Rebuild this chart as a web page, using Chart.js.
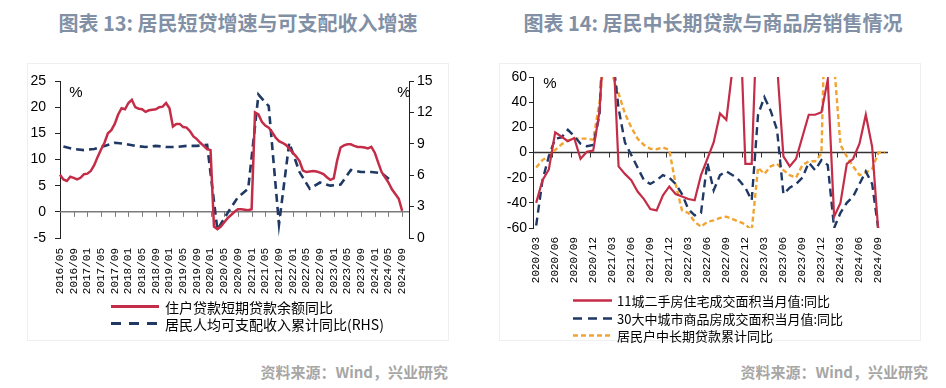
<!DOCTYPE html>
<html><head><meta charset="utf-8">
<script src="https://cdn.jsdelivr.net/npm/chart.js@4.4.0/dist/chart.umd.min.js"></script>
<style>
html,body{margin:0;padding:0;background:#fff;}
body{width:946px;height:388px;position:relative;overflow:hidden;font-family:"Noto Sans CJK SC","Noto Sans",sans-serif;}
.title{position:absolute;top:9px;line-height:28px;font-size:20px;font-weight:700;color:#8190a5;white-space:nowrap;text-align:center;}
.box{position:absolute;border:1px solid #efefef;box-sizing:border-box;}
canvas{position:absolute;top:0;}
.src{position:absolute;top:362px;line-height:20px;font-size:15px;font-weight:700;color:#a6a6a6;white-space:nowrap;text-align:right;}
.leg{position:absolute;color:#000;white-space:nowrap;}
.leg .row{display:flex;align-items:center;}
.leg svg{display:block;}
</style></head><body>
<div class="box" style="left:27px;top:63px;width:422px;height:278px;"></div>
<div class="box" style="left:499px;top:63px;width:422px;height:278px;"></div>
<div class="title" style="left:0;width:476px;">图表 13: 居民短贷增速与可支配收入增速</div>
<div class="title" style="left:473px;width:480px;">图表 14: 居民中长期贷款与商品房销售情况</div>
<canvas id="c1" width="473" height="300" style="left:0;width:473px;height:300px;"></canvas>
<canvas id="c2" width="473" height="290" style="left:473px;width:473px;height:290px;"></canvas>
<div class="leg" style="left:111px;top:298px;font-size:14px;">
  <div class="row" style="height:17px;"><svg width="48" height="17"><line x1="0" y1="8.5" x2="48" y2="8.5" stroke="#c42d48" stroke-width="3"/></svg><span style="margin-left:6px;">住户贷款短期贷款余额同比</span></div>
  <div class="row" style="height:17px;"><svg width="48" height="17"><line x1="0" y1="8.5" x2="48" y2="8.5" stroke="#1f3864" stroke-width="3" stroke-dasharray="10 8"/></svg><span style="margin-left:6px;">居民人均可支配收入累计同比(RHS)</span></div>
</div>
<div class="leg" style="left:573px;top:292px;font-size:13px;">
  <div class="row" style="height:17.5px;"><svg width="39" height="17"><line x1="0" y1="8.5" x2="39" y2="8.5" stroke="#c42d48" stroke-width="2.5"/></svg><span style="margin-left:5px;">11城二手房住宅成交面积当月值:同比</span></div>
  <div class="row" style="height:17.5px;"><svg width="39" height="17"><line x1="0" y1="8.5" x2="39" y2="8.5" stroke="#1f3864" stroke-width="2.5" stroke-dasharray="9 6"/></svg><span style="margin-left:5px;">30大中城市商品房成交面积当月值:同比</span></div>
  <div class="row" style="height:17.5px;"><svg width="39" height="17"><line x1="0" y1="8.5" x2="39" y2="8.5" stroke="#f2a431" stroke-width="2.5" stroke-dasharray="5 3"/></svg><span style="margin-left:5px;">居民户中长期贷款累计同比</span></div>
</div>
<div class="src" style="left:0;width:448px;">资料来源：Wind，兴业研究</div>
<div class="src" style="left:473px;width:455px;">资料来源：Wind，兴业研究</div>
<script>
// ---------- categories ----------
function monthRange(y0, m0, y1, m1) {
  const out = [];
  let y = y0, m = m0;
  while (y < y1 || (y === y1 && m <= m1)) {
    out.push(y + '/' + String(m).padStart(2, '0'));
    m++; if (m > 12) { m = 1; y++; }
  }
  return out;
}
const leftMonths = monthRange(2016, 5, 2024, 11);   // axis runs a little past last data
const rightMonths = monthRange(2020, 3, 2024, 10);

// ---------- chart 13 data ----------
// 住户贷款短期贷款余额同比 (%), monthly 2016/05 - 2024/09
const shortLoanYoY = [
  7.1, 6.2, 5.9, 6.7, 6.5, 6.2, 6.5, 7.2, 7.3, 7.8,
  8.9, 10.5, 11.9, 13.2, 15.0, 15.6, 16.8, 18.6, 19.8, 19.6,
  20.8, 21.4, 20.0, 19.7, 19.6, 19.1, 19.4, 19.5, 19.6, 20.0,
  20.1, 20.8, 19.8, 16.3, 16.8, 16.8, 16.2, 16.1, 15.4, 14.4,
  13.9, 13.2, 12.6, 12.0, 11.8, -2.8, -3.3, -2.8, -2.0, -1.2,
  -0.6, 0.0, 0.5, 0.5, 0.4, 0.3, 0.5, 19.0, 18.6, 17.2,
  16.5, 16.1, 15.2, 14.2, 13.5, 13.2, 12.8, 12.1, 11.3, 10.6,
  9.7, 7.9, 7.6, 7.7, 7.8, 7.7, 7.5, 7.2, 6.6, 6.1,
  6.4, 9.8, 12.3, 12.7, 12.9, 12.9, 12.6, 12.4, 12.4, 12.3,
  12.1, 12.4, 11.3, 9.4, 7.6, 6.6, 5.6, 4.3, 3.4, 2.5,
  0.2
];
// 居民人均可支配收入累计同比 (%, RHS), quarterly
const incomeMonths = [
  '2016/06','2016/09','2016/12','2017/03','2017/06','2017/09','2017/12',
  '2018/03','2018/06','2018/09','2018/12','2019/03','2019/06','2019/09','2019/12',
  '2020/03','2020/06','2020/09','2020/12','2021/03','2021/06','2021/09','2021/12',
  '2022/03','2022/06','2022/09','2022/12','2023/03','2023/06','2023/09','2023/12',
  '2024/03','2024/06'
];
const incomeYoY = [
  8.75, 8.5, 8.4, 8.5, 8.8, 9.1, 9.0,
  8.8, 8.7, 8.8, 8.7, 8.7, 8.8, 8.8, 8.9,
  0.8, 2.4, 3.9, 4.7, 13.7, 12.6, 1.3, 9.1,
  6.3, 4.7, 5.3, 5.0, 5.1, 6.5, 6.3, 6.3,
  6.2, 5.4
];

// ---------- chart 14 data (monthly 2020/03 - ) ----------
const resaleArea11 = [
  -40, -22, -13.5, 16, 12.5, 9, 11.5, -5, 0.5, 1.5,
  33, 120, 100, -11, -17, -22, -31, -37, -45, -46,
  -34, -27, -33, -35, -37, -38, -18, -5, 8, 31,
  26, 68, 130, -9, -9, 130, 150, 120, 70, -3,
  -11, -5, 12.5, 30, 30, 32, 58, -51, -40, -9,
  -5, 7, 30, 4.5, -65
];
const newHomeArea30 = [
  -58, -22, -3, 11, 12, 18, 13, 7, 5, 6,
  30, 150, 80, 35, 8, -2, -12, -22, -25, -22,
  -18, -20, -25, -33, -45, -50, -48, -8, -30, -18,
  -15, -18, -22, -28, -38, 30, 44, 33, 18, -33,
  -28, -25, -20, -8, -14, -6, -10, -60, -48, -40,
  -35, -25, -15, -25, -62
];
const mltLoanYoY = [
  -12, -6, -3, 2, 6.5, 9.5, 11, 11, 11, 10,
  40, 90, 62, 47, 31, 20, 11, 6, 3, 2.6,
  4, 2, -25, -46, -48, -55, -59, -55, -54, -52,
  -51, -53, -55, -57, -62, -12, -17, -11, -9, -14,
  -18, -20, -10, -7, -7, -1, 200, 70, 6, -3,
  -11, -18, -16, -13, 0, 0
];

const RED = '#c42d48', NAVY = '#1f3864', GOLD = '#f2a431';
const TICK_FONT = {family: 'Liberation Sans', size: 14};
const XLAB_FONT = {family: 'Liberation Mono', size: 11};

// zero line with hanging tick marks, computed from the scales
const zeroLine = {
  id: 'zeroLine',
  beforeDatasetsDraw(chart, args, o) {
    const {ctx, chartArea} = chart;
    const y = chart.scales[o.axis].getPixelForValue(0);
    const xs = chart.scales.x;
    ctx.save();
    ctx.strokeStyle = o.color; ctx.lineWidth = o.width;
    ctx.beginPath(); ctx.moveTo(chartArea.left, y); ctx.lineTo(chartArea.right, y); ctx.stroke();
    ctx.lineWidth = 1;
    ctx.beginPath();
    for (let i = o.every; i <= o.last; i += o.every) {
      let x = xs.getPixelForValue(i);
      if (o.between) x = (xs.getPixelForValue(i - 1) + x) / 2;
      x = Math.round(x) + 0.5;
      ctx.moveTo(x, y); ctx.lineTo(x, y + o.len);
    }
    ctx.stroke();
    ctx.restore();
  }
};
const unitMarks = {
  id: 'unitMarks',
  afterDraw(chart, args, o) {
    const {ctx, chartArea} = chart;
    ctx.save();
    ctx.fillStyle = '#000';
    ctx.font = '15px "Liberation Sans"';
    ctx.textAlign = 'center'; ctx.textBaseline = 'middle';
    o.marks.forEach(m => {
      const x = m.side === 'left' ? chartArea.left + m.dx : chartArea.right - m.dx;
      ctx.fillText('%', x, chartArea.top + m.dy);
    });
    ctx.restore();
  }
};

function yAxis(pos, min, max, step, width, tickLen, pad) {
  return {
    position: pos, min, max,
    ticks: {stepSize: step, padding: pad, font: TICK_FONT, color: '#000'},
    grid: {drawOnChartArea: false, drawTicks: true, tickLength: tickLen, color: '#222'},
    border: {display: true, color: '#222', width: 1},
    afterFit: s => { s.width = width; }
  };
}

new Chart(document.getElementById('c1'), {
  type: 'line',
  data: {
    labels: leftMonths,
    datasets: [
      {label: '住户贷款短期贷款余额同比', data: shortLoanYoY, yAxisID: 'y',
       borderColor: RED, borderWidth: 2.5, pointRadius: 0, tension: 0, fill: false},
      {label: '居民人均可支配收入累计同比(RHS)', data: incomeMonths.map((m, k) => ({x: m, y: incomeYoY[k]})),
       yAxisID: 'y1', borderColor: NAVY, borderWidth: 2.6, borderDash: [8, 5], pointRadius: 0,
       spanGaps: true, tension: 0, fill: false}
    ]
  },
  options: {
    responsive: false, animation: false, devicePixelRatio: 1,
    layout: {padding: {top: 81, left: 0, right: 0, bottom: 0}},
    plugins: {
      legend: {display: false}, tooltip: {enabled: false},
      zeroLine: {axis: 'y', color: '#7a7a7a', width: 1.5, every: 4, last: 100, len: 5, between: false},
      unitMarks: {marks: [{side: 'left', dx: 16, dy: 12}, {side: 'right', dx: 5, dy: 12}]}
    },
    scales: {
      x: {type: 'category', offset: false,
          grid: {display: false, drawTicks: false}, border: {display: false},
          ticks: {autoSkip: false, maxRotation: 90, minRotation: 90, padding: 10, font: XLAB_FONT, color: '#000',
                  callback: function (v, i) { return (i % 4 === 0 && i <= 100) ? this.getLabelForValue(v) : null; }},
          afterFit: s => { s.height = 62; }},
      y: yAxis('left', -5, 25, 5, 60, 5, 9),
      y1: yAxis('right', 0, 15, 3, 64, 5, 3)
    }
  },
  plugins: [zeroLine, unitMarks]
});

new Chart(document.getElementById('c2'), {
  type: 'line',
  data: {
    labels: rightMonths,
    datasets: [
      {label: '11城二手房住宅成交面积当月值:同比', data: resaleArea11,
       borderColor: RED, borderWidth: 2.2, pointRadius: 0, tension: 0, fill: false},
      {label: '30大中城市商品房成交面积当月值:同比', data: newHomeArea30,
       borderColor: NAVY, borderWidth: 2.4, borderDash: [8, 5], pointRadius: 0, tension: 0, fill: false},
      {label: '居民户中长期贷款累计同比', data: mltLoanYoY,
       borderColor: GOLD, borderWidth: 2.4, borderDash: [5, 3], pointRadius: 0, tension: 0, fill: false}
    ]
  },
  options: {
    responsive: false, animation: false, devicePixelRatio: 1,
    layout: {padding: {top: 77, left: 0, right: 58, bottom: 0}},
    plugins: {
      legend: {display: false}, tooltip: {enabled: false},
      zeroLine: {axis: 'y', color: '#333', width: 1.5, every: 3, last: 54, len: 5, between: true},
      unitMarks: {marks: [{side: 'left', dx: 17, dy: 7}]}
    },
    scales: {
      x: {type: 'category', offset: true,
          grid: {display: false, drawTicks: false}, border: {display: false},
          ticks: {autoSkip: false, maxRotation: 90, minRotation: 90, padding: 9, font: XLAB_FONT, color: '#000',
                  callback: function (v, i) { return (i % 3 === 0 && i <= 54) ? this.getLabelForValue(v) : null; }},
          afterFit: s => { s.height = 62; }},
      y: yAxis('left', -60, 60, 20, 60, 4, 2)
    }
  },
  plugins: [zeroLine, unitMarks]
});
</script>
</body></html>
